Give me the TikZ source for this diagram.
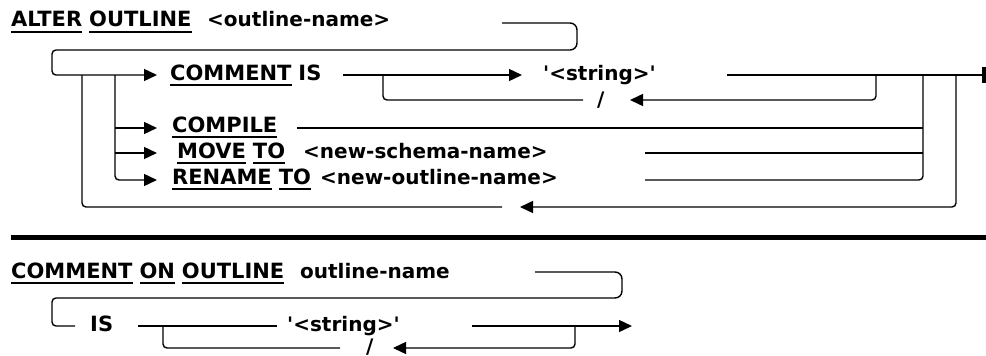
\documentclass[tikz,border=0pt]{standalone}
\usepackage{fontspec}
\usetikzlibrary{arrows.meta}
\newfontfamily\diagfont{DejaVu Sans}
\newcommand\ulw[1]{\setbox0\hbox{#1}\rlap{\rule[-6pt]{\wd0}{1.6pt}}\box0}
\begin{document}
\begin{tikzpicture}[x=1pt,y=-1pt,
  rail/.style={line width=1.4pt, rounded corners=4pt},
  arr/.style={-{Triangle[length=13pt,width=12pt]}},
  kwtxt/.style={anchor=base west, inner sep=0pt, font=\diagfont\bfseries\fontsize{21}{21}\selectfont},
  idtxt/.style={anchor=base west, inner sep=0pt, font=\diagfont\bfseries\fontsize{20}{20}\selectfont}]
\useasboundingbox (0,0) rectangle (986,356);

% ---------- ALTER OUTLINE ----------
\node[kwtxt] (alter) at (11,27) {\ulw{ALTER}\hspace{7pt}\ulw{OUTLINE}};
\node[idtxt] (oname) at (207,27) {<outline-name>};
\node[kwtxt] (cmtis) at (170,80) {\ulw{COMMENT}\hspace{7pt}IS};
\node[idtxt] (str1) at (543,80) {'<string>'};
\node[idtxt] (sl1) at (597,106) {/};
\node[kwtxt] (compile) at (172,132) {\ulw{COMPILE}};
\node[kwtxt] (move) at (177,158) {\ulw{MOVE}\hspace{7pt}\ulw{TO}};
\node[idtxt] (sname) at (303,158) {<new-schema-name>};
\node[kwtxt] (rename) at (172,184) {\ulw{RENAME}\hspace{7pt}\ulw{TO}};
\node[idtxt] (nname) at (320,184) {<new-outline-name>};

\coordinate (hdA) at (502,23);
\coordinate (jA) at (82,75);
\coordinate (jB) at (115,75);
\coordinate (jC) at (383,75);
\coordinate (jD) at (876,75);
\coordinate (jE) at (923,75);
\coordinate (jF) at (956,75);
\coordinate (endp) at (983,75);

\draw[rail,arr] (hdA) [rounded corners=7pt] -- (577,23) -- (577,50) [rounded corners=4pt] -- (52,50) -- (52,75) -- (157,75);
\draw[rail,arr] (343,75) -- (522,75);
\draw[rail] (727,75) -- (endp);
\draw[line width=4pt] (984,67) -- (984,83);
% string repeat loop
\draw[rail,arr] (jD) |- (630,100);
\draw[rail] (583,100) -| (jC);
% branches
\draw[rail,arr] (jB) |- (157,180);
\draw[rail,arr] (115,128) -- (157,128);
\draw[rail,arr] (115,153) -- (157,153);
\draw[rail] (297,128) -- (923,128);
\draw[rail] (645,153) -- (923,153);
\draw[rail] (645,180) -| (jE);
% outer repeat loop
\draw[rail,arr] (jF) |- (520,207);
\draw[rail] (502,207) -| (jA);

% separator
\draw[line width=5pt] (11,237) -- (986,237);

% ---------- COMMENT ON OUTLINE ----------
\node[kwtxt] (cmton) at (11,278) {\ulw{COMMENT}\hspace{7pt}\ulw{ON}\hspace{7pt}\ulw{OUTLINE}};
\node[idtxt] (oname2) at (300,278) {outline-name};
\node[kwtxt] (is) at (90,331) {IS};
\node[idtxt] (str2) at (287,331) {'<string>'};
\node[idtxt] (sl2) at (366,353) {/};

\coordinate (hdB) at (535,272);
\coordinate (jG) at (163,326);
\coordinate (jH) at (575,326);

\draw[rail] (hdB) [rounded corners=7pt] -- (622,272) -- (622,298) [rounded corners=4pt] -- (52,298) -- (52,326) -- (75,326);
\draw[rail] (138,326) -- (277,326);
\draw[rail,arr] (472,326) -- (632,326);
\draw[rail,arr] (jH) |- (393,348);
\draw[rail] (340,348) -| (jG);
\end{tikzpicture}
\end{document}
